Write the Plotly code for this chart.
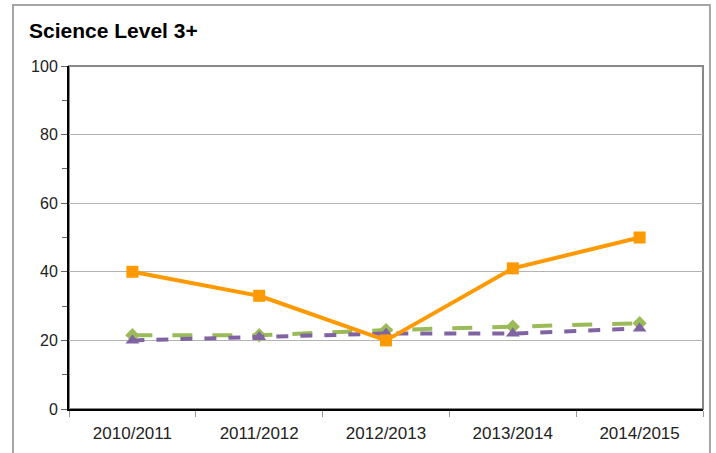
import plotly.graph_objects as go

years = ["2010/2011", "2011/2012", "2012/2013", "2013/2014", "2014/2015"]
school = [40, 33, 20, 41, 50]
group_a = [21.5, 21.5, 23, 24, 25]
group_b = [20, 21, 22, 22, 23.5]

fig = go.Figure()

fig.add_trace(go.Scatter(
    x=years, y=group_a, mode="lines+markers",
    line=dict(color="#9BBB59", width=4, dash="longdash"),
    marker=dict(symbol="diamond", size=11, color="#9BBB59"),
))
fig.add_trace(go.Scatter(
    x=years, y=group_b, mode="lines+markers",
    line=dict(color="#8064A2", width=4, dash="dash"),
    marker=dict(symbol="triangle-up", size=12, color="#8064A2"),
))
fig.add_trace(go.Scatter(
    x=years, y=school, mode="lines+markers",
    line=dict(color="#FF9900", width=4),
    marker=dict(symbol="square", size=12, color="#FF9900"),
))

# outer chart frame and plot-area border
fig.add_shape(type="rect", xref="paper", yref="paper",
              x0=-0.0883, x1=1.011, y0=-0.2, y1=1.178,
              line=dict(color="#a6a6a6", width=2), layer="below")
fig.add_shape(type="rect", xref="paper", yref="paper",
              x0=0, x1=1, y0=0, y1=1,
              line=dict(color="#888888", width=2), layer="below")

fig.update_xaxes(
    showline=True, linecolor="black", linewidth=2,
    ticks="outside", tickson="boundaries", ticklen=6, tickcolor="#999999",
    tickfont=dict(family="Liberation Sans", size=17, color="#222222"),
    ticklabelstandoff=8, automargin=False,
    showgrid=False, range=[-0.5, 4.5],
)
fig.update_yaxes(
    range=[0, 100], dtick=20,
    showline=True, linecolor="black", linewidth=2,
    ticks="outside", ticklen=6, tickcolor="#666666",
    minor=dict(dtick=10, ticks="outside", ticklen=5, tickcolor="#666666", showgrid=False),
    showgrid=True, gridcolor="#b3b3b3", gridwidth=1,
    zeroline=False, automargin=False,
    tickfont=dict(family="Liberation Sans", size=16, color="#222222"),
)

fig.update_layout(
    width=716, height=453,
    title=dict(text="<b>Science Level 3+</b>", x=29 / 716, y=1 - 31 / 453,
               xanchor="left", yanchor="middle",
               font=dict(family="Liberation Sans", size=21, color="black")),
    showlegend=False,
    plot_bgcolor="white", paper_bgcolor="white",
    margin=dict(l=69, r=13, t=66, b=44),
)

fig.write_html("out.html", config={"displayModeBar": False},
               post_script="document.body.style.margin='0';")
